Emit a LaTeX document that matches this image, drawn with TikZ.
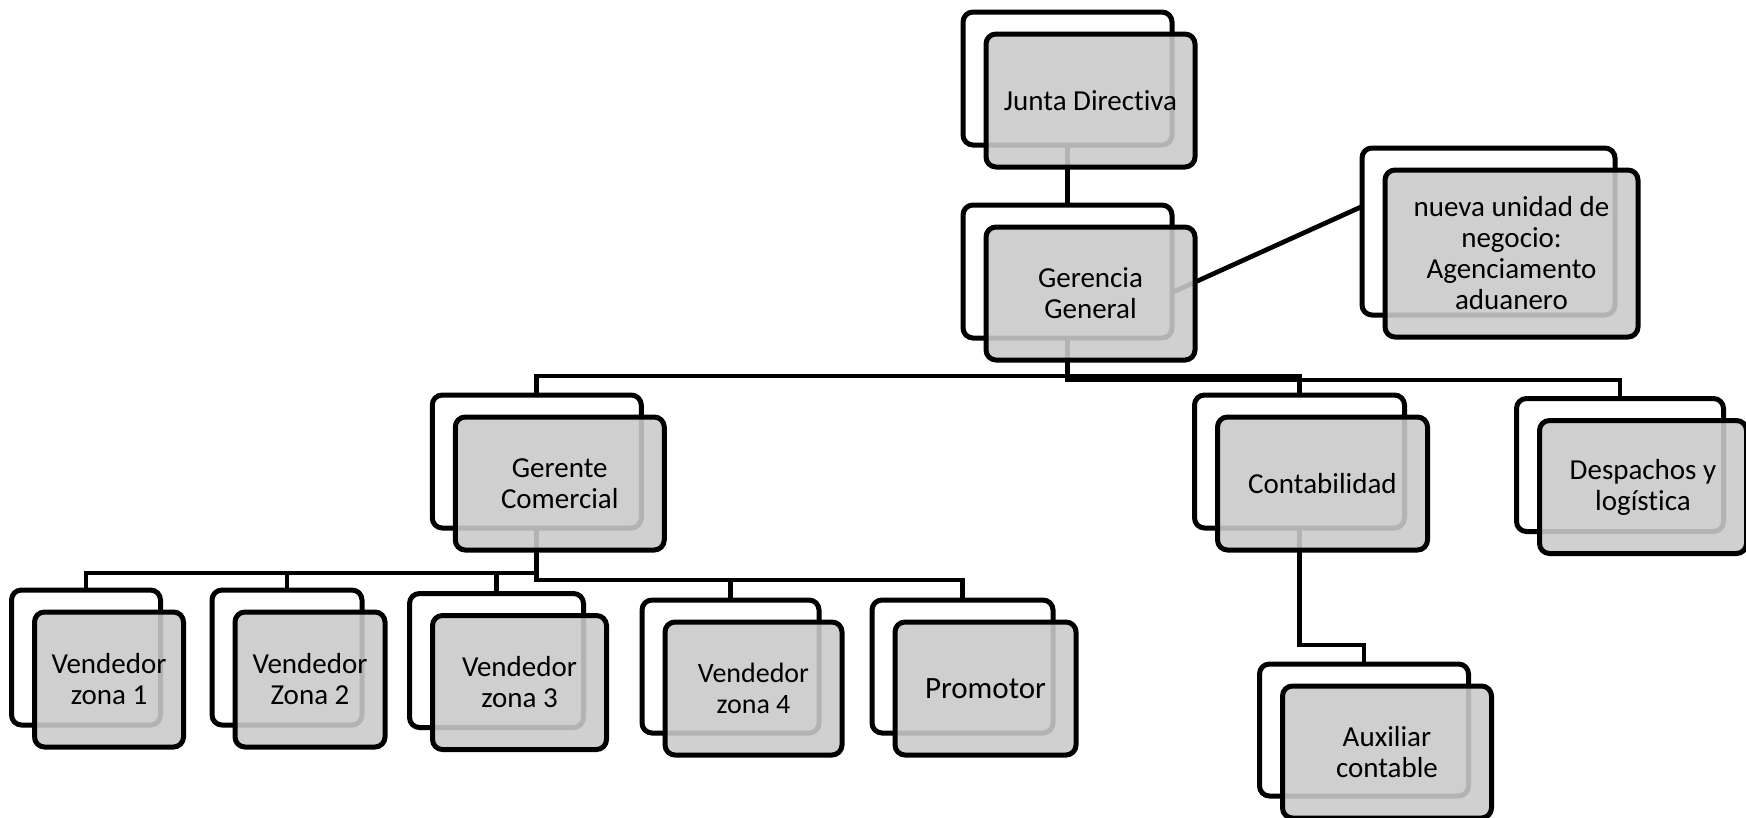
\documentclass[tikz,border=0pt]{standalone}
\usepackage{fontspec}
\setmainfont{Carlito}[Ligatures=NoCommon]
\usetikzlibrary{calc}
\pgfdeclarelayer{links}
\pgfsetlayers{links,main}
\definecolor{boxgray}{RGB}{202,202,202}

% One unit: a white card behind, a grey translucent card in front holding the text
\newcommand\orgunit[7]{%
  \node[backbox, minimum width=#4, minimum height=#5] (#1) at (#2,#3) {};
  \node[frontbox, minimum width=#4, minimum height=#5,
    font=\fontsize{#6}{31}\selectfont] (#1-f) at ($(#1)+(23,22)$) {#7};
}

\begin{document}
\begin{tikzpicture}[x=1pt, y=-1pt,
  backbox/.style={draw=black, line width=5pt, fill=white, rounded corners=10pt,
    inner sep=0pt, outer sep=0pt},
  frontbox/.style={draw=black, line width=5pt, fill=boxgray, fill opacity=0.89,
    draw opacity=1, text opacity=1, rounded corners=10pt, inner sep=0pt,
    outer sep=0pt, align=center},
  conn/.style={draw=black, line width=4.7pt}]
\useasboundingbox (0,0) rectangle (1746,817);

\orgunit{jd}{1067.5}{78.5}{209}{133}{29}{Junta Directiva}
\orgunit{gg}{1067.5}{271.5}{209}{133}{29}{Gerencia\\General}
\orgunit{nu}{1488.5}{231.5}{253}{167}{29}{nueva unidad de\\negocio:\\Agenciamento\\aduanero}
\orgunit{gc}{536.75}{461.5}{209}{133}{29}{Gerente\\Comercial}
\orgunit{ct}{1299.5}{461.5}{210}{133}{29}{Contabilidad}
\orgunit{dl}{1620}{465}{207}{133}{29}{Despachos y\\logística}
\orgunit{v1}{86}{657.5}{149}{135}{29}{Vendedor\\zona 1}
\orgunit{v2}{287}{657.5}{150}{135}{29}{Vendedor\\Zona 2}
\orgunit{v3}{496.5}{660.5}{174}{134}{29}{Vendedor\\zona 3}
\orgunit{v4}{730.5}{666.5}{177}{133}{28}{Vendedor\\zona 4}
\orgunit{pr}{962.5}{666.5}{181}{133}{31}{Promotor}
\orgunit{ax}{1364}{730}{209}{132}{29}{Auxiliar\\contable}

% heights of the horizontal runs
\coordinate (busA) at (0,376);
\coordinate (busB) at (0,380);
\coordinate (busC) at (0,573);
\coordinate (busD) at (0,580);
\coordinate (busE) at (0,645);

\begin{pgfonlayer}{links}
  \draw[conn] (jd.south) -- (gg.north);
  \draw[conn] (gg.south) -- (gg.south |- busA) -| (gc.north);
  \draw[conn] (gg.south) -- (gg.south |- busA) -| (ct.north);
  \draw[conn] (gg.south) -- (gg.south |- busB) -| (dl.north);
  \draw[conn] ([yshift=-21pt]gg.east) -- ([yshift=25pt]nu.west);
  \draw[conn] (gc.south) -- (gc.south |- busC) -| (v1.north);
  \draw[conn] (gc.south) -- (gc.south |- busC) -| (v2.north);
  \draw[conn] (gc.south) -- (gc.south |- busC) -| (v3.north);
  \draw[conn] (gc.south) -- (gc.south |- busD) -| (v4.north);
  \draw[conn] (gc.south) -- (gc.south |- busD) -| (pr.north);
  \draw[conn] (ct.south) -- (ct.south |- busE) -| (ax.north);
\end{pgfonlayer}
\end{tikzpicture}
\end{document}
